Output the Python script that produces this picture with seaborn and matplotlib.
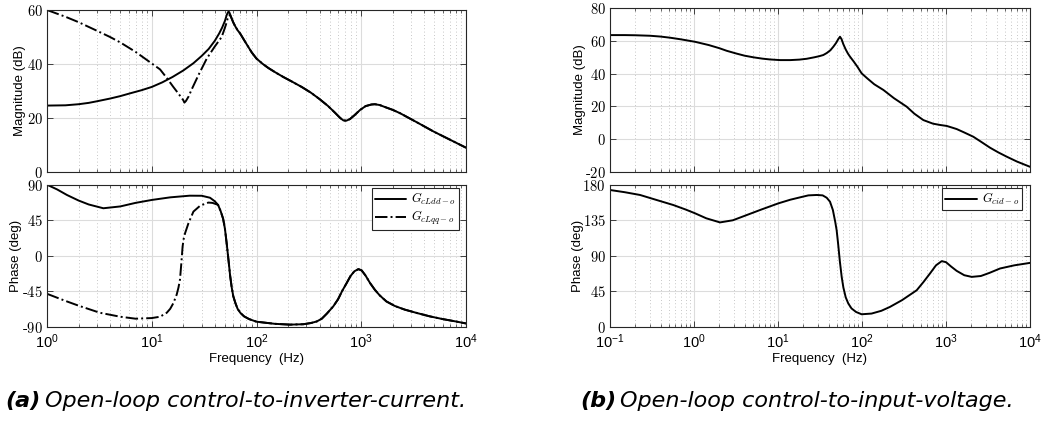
import numpy as np
import pandas as pd
import seaborn as sns
import matplotlib
matplotlib.use("Agg")
import matplotlib.pyplot as plt
from matplotlib.ticker import LogLocator, LogFormatterMathtext, FuncFormatter, FixedLocator, NullFormatter

# ---- (a) open-loop control-to-inverter-current ----
freq_dd_mag = [1, 1.5, 2, 2.5, 3, 4, 5, 6.3, 8, 10, 12.6, 15.8, 20, 25, 30, 35, 40, 44, 47, 50, 52, 53.5,
               54.3, 55.2, 56.5, 58, 60, 63, 66, 69.5, 80, 90, 100, 115, 130, 150, 180, 220, 270, 330, 400,
               480, 560, 630, 676, 720, 780, 860, 976, 1100, 1250, 1350, 1500, 1700, 2000, 2340, 3400, 4900,
               7000, 10000]
mag_dd = [24.6, 24.7, 25.1, 25.6, 26.2, 27.2, 28.1, 29.2, 30.3, 31.5, 33.2, 35.2, 37.6, 40.3, 43.0, 45.6,
          48.6, 51.3, 53.5, 56.0, 58.2, 59.2, 59.4, 59.0, 58.0, 56.8, 55.4, 53.8, 52.5, 51.4, 47.5, 44.3,
          42.0, 40.0, 38.5, 37.0, 35.2, 33.4, 31.5, 29.4, 27.0, 24.5, 22.0, 20.0, 19.1, 19.0, 19.6, 21.0,
          23.0, 24.4, 25.0, 25.1, 24.8, 24.0, 23.0, 21.8, 18.4, 15.0, 12.0, 9.0]

freq_qq_mag = [1, 1.5, 2, 3, 4, 5, 7, 10, 12, 14, 16, 18, 20, 20.5, 21.2, 22.5, 24, 28, 33.5, 40, 46.5, 49,
               51, 53, 55, 56.5, 58, 60, 63, 66, 69.5, 80, 90, 100, 115, 130, 150, 180, 220, 270, 330, 400,
               480, 560, 630, 676, 720, 780, 860, 976, 1100, 1250, 1350, 1500, 1700, 2000, 2340, 3400, 4900,
               7000, 10000]
mag_qq = [60.0, 57.5, 55.5, 52.3, 50.0, 48.0, 44.5, 40.2, 38.0, 34.7, 31.6, 29.0, 26.6, 25.7, 26.3, 28.0,
          30.5, 36.0, 42.0, 46.5, 50.0, 52.5, 54.5, 56.8, 58.1, 57.8, 56.8, 55.4, 53.8, 52.5, 51.4, 47.5,
          44.3, 42.0, 40.0, 38.5, 37.0, 35.2, 33.4, 31.5, 29.4, 27.0, 24.5, 22.0, 20.0, 19.1, 19.0, 19.6,
          21.0, 23.0, 24.4, 25.0, 25.1, 24.8, 24.0, 23.0, 21.8, 18.4, 15.0, 12.0, 9.0]

freq_dd_ph = [1, 1.25, 1.55, 2, 2.5, 3.45, 5, 7, 10, 15, 23, 30, 36, 40, 43, 45.5, 48, 50, 52, 54, 56, 58, 60,
              63, 66, 70, 76, 85, 100, 150, 209, 280, 330, 376, 420, 470, 540, 600, 660, 725, 790, 860, 940,
              1010, 1100, 1215, 1350, 1500, 1740, 2100, 2600, 3400, 4500, 6000, 8000, 10000]
ph_dd = [90, 84, 77, 70, 65, 60.2, 62.5, 67, 70.7, 74, 76.1, 76, 73.5, 69, 64.4, 56.5, 47, 34, 15, -5, -25,
         -40, -51, -60, -67, -72, -76.5, -80, -83.3, -86, -87, -86.5, -85, -83, -79.5, -73, -64, -55, -44,
         -34.5, -25.5, -19.5, -16.8, -18.5, -25, -34.5, -43, -50, -57.7, -63.5, -68, -72.3, -76.5, -80, -83,
         -85.5]

freq_qq_ph = [1, 1.5, 2, 3.2, 5, 7, 10, 12, 13.9, 15, 16.1, 17.3, 18, 18.6, 19.2, 19.7, 20.2, 20.8, 22.4, 25,
              29, 34.7, 38, 41.5, 43, 45.5, 48, 50, 52, 54, 56, 58, 60, 63, 66, 70, 76, 85, 100, 150, 209, 280,
              330, 376, 420, 470, 540, 600, 660, 725, 790, 860, 940, 1010, 1100, 1215, 1350, 1500, 1740, 2100,
              2600, 3400, 4500, 6000, 8000, 10000]
ph_qq = [-48, -57, -63, -72, -77, -79.5, -78.7, -77, -72, -67, -59.7, -49, -40, -30, -8, 11.8, 22, 28.6,
         41.2, 56, 63.5, 67.4, 67, 65.2, 64.4, 56.5, 47, 34, 15, -5, -25, -40, -51, -60, -67, -72, -76.5, -80,
         -83.3, -86, -87, -86.5, -85, -83, -79.5, -73, -64, -55, -44, -34.5, -25.5, -19.5, -16.8, -18.5, -25,
         -34.5, -43, -50, -57.7, -63.5, -68, -72.3, -76.5, -80, -83, -85.5]

# ---- (b) open-loop control-to-input-voltage ----
freq_cid_mag = [0.1, 0.15, 0.2, 0.3, 0.4, 0.52, 0.7, 1.03, 1.5, 2.0, 2.45, 3.2, 4, 5.1, 6.5, 8, 10.6, 14,
                18, 21.9, 27, 31, 34.6, 38, 42, 45.6, 49, 52, 54.7, 57, 60, 64, 68, 72, 80, 88, 99, 115, 140,
                180, 240, 340, 420, 537, 700, 850, 1020, 1180, 1340, 1650, 2114, 2600, 3340, 4200, 5280,
                7000, 10000]
mag_cid = [63.6, 63.6, 63.5, 63.2, 62.7, 62.0, 61.0, 59.5, 57.5, 55.6, 54.0, 52.3, 51.0, 50.0, 49.2, 48.7,
           48.3, 48.3, 48.6, 49.1, 50.0, 50.7, 51.4, 52.6, 54.3, 56.5, 58.7, 61.0, 62.6, 61.2, 58.0, 54.8,
           52.3, 50.4, 47.3, 44.3, 40.2, 37.2, 33.5, 30.0, 25.0, 19.8, 15.5, 11.6, 9.4, 8.6, 8.0, 7.0, 6.1,
           4.0, 1.4, -1.6, -5.3, -8.2, -10.8, -13.8, -17.0]

freq_cid_ph = [0.1, 0.15, 0.228, 0.35, 0.567, 0.8, 1.03, 1.4, 2.04, 2.9, 4.24, 6.3, 10.1, 14, 18.3, 23, 28.9,
               34, 38, 41.6, 45, 48, 49.9, 52, 54.5, 57.3, 60, 64, 68.7, 75, 85, 99, 130, 170, 215, 300, 448,
               540, 645, 760, 889, 1000, 1150, 1340, 1650, 2023, 2600, 3300, 4395, 6500, 10000]
ph_cid = [173.3, 170.5, 167, 161, 154.3, 148.5, 143.8, 137.5, 132.3, 135, 141.6, 148.5, 156.4, 161, 164,
          166.5, 167, 166.5, 163.5, 158.5, 148, 133, 122.5, 105, 83, 63.4, 50, 37.5, 29.7, 23.5, 19, 16.1,
          17, 20.5, 25.4, 34, 46.5, 57, 67.7, 78, 83.3, 82, 76.5, 71, 65.5, 63.4, 64.5, 68.5, 74, 78, 81.1]

label_dd = r"$G_{cLdd-o}$"
label_qq = r"$G_{cLqq-o}$"
label_cid = r"$G_{cid-o}$"

sns.set_theme(style="ticks")
plt.rcParams["font.family"] = ["Liberation Sans", "DejaVu Sans"]
plt.rcParams["mathtext.fontset"] = "cm"
plt.rcParams["axes.linewidth"] = 0.8
plt.rcParams["text.color"] = "black"
plt.rcParams["axes.labelcolor"] = "black"

fig = plt.figure(figsize=(10.41, 4.23), dpi=100)

W = 1041.0
H = 423.0


def box(x0, y0, x1, y1):
    return [x0 / W, 1 - y1 / H, (x1 - x0) / W, (y1 - y0) / H]


ax_a_mag = fig.add_axes(box(47, 10, 466, 172))
ax_a_ph = fig.add_axes(box(47, 184.7, 466, 327))
ax_b_mag = fig.add_axes(box(610, 8.3, 1030, 171.7))
ax_b_ph = fig.add_axes(box(610, 184.7, 1030, 327))


def line(ax, f, v, style="-", label=None):
    df = pd.DataFrame({"f": f, "v": v})
    sns.lineplot(data=df, x="f", y="v", ax=ax, color="black", lw=1.4, linestyle=style,
                 label=label, sort=False, legend=False)


line(ax_a_mag, freq_dd_mag, mag_dd, "-")
line(ax_a_mag, freq_qq_mag, mag_qq, "-.")
line(ax_a_ph, freq_dd_ph, ph_dd, "-", label_dd)
line(ax_a_ph, freq_qq_ph, ph_qq, "-.", label_qq)
line(ax_b_mag, freq_cid_mag, mag_cid, "-")
line(ax_b_ph, freq_cid_ph, ph_cid, "-", label_cid)


def num_label(v, pos):
    if v < 0:
        return r"$\text{-}%g$" % abs(v)
    return r"$%g$" % v


num_fmt = FuncFormatter(num_label)


def style_axes(ax, xlim, ylim, yticks, show_x):
    ax.set_xscale("log")
    ax.set_xlim(*xlim)
    ax.set_ylim(*ylim)
    ax.xaxis.set_major_locator(LogLocator(base=10, numticks=20))
    ax.xaxis.set_minor_locator(LogLocator(base=10, subs=np.arange(2, 10), numticks=100))
    ax.yaxis.set_major_locator(FixedLocator(yticks))
    ax.yaxis.set_major_formatter(num_fmt)
    if show_x:
        ax.xaxis.set_major_formatter(LogFormatterMathtext())
    else:
        ax.xaxis.set_major_formatter(NullFormatter())
    ax.xaxis.set_minor_formatter(NullFormatter())
    ax.grid(True, which="major", color="#dcdcdc", lw=0.8, ls="-")
    ax.grid(True, which="minor", axis="x", color="#b4b4b4", lw=0.6, ls=(0, (1, 3)))
    ax.set_axisbelow(True)
    ax.tick_params(which="both", direction="in", top=True, right=True, colors="#262626",
                   labelcolor="black", labelsize=10.5, pad=3)
    ax.tick_params(which="major", length=4, width=0.6)
    ax.tick_params(which="minor", length=2.2, width=0.5)
    ax.tick_params(axis="x", which="major", pad=4)
    for s in ax.spines.values():
        s.set_color("#262626")
    ax.set_xlabel("")
    ax.set_ylabel("")


style_axes(ax_a_mag, (1, 1e4), (0, 60), [0, 20, 40, 60], False)
style_axes(ax_a_ph, (1, 1e4), (-90, 90), [-90, -45, 0, 45, 90], True)
style_axes(ax_b_mag, (0.1, 1e4), (-20, 80), [-20, 0, 20, 40, 60, 80], False)
style_axes(ax_b_ph, (0.1, 1e4), (0, 180), [0, 45, 90, 135, 180], True)

# y-label centres (pixels from the figure's left edge)
ylabel_x = {ax_a_mag: (20, 47, 419), ax_a_ph: (16, 47, 419),
            ax_b_mag: (580, 610, 420), ax_b_ph: (578, 610, 420)}
for ax in (ax_a_mag, ax_b_mag):
    ax.set_ylabel("Magnitude (dB)", fontsize=9.5)
for ax in (ax_a_ph, ax_b_ph):
    ax.set_ylabel("Phase (deg)", fontsize=9.5)
    ax.set_xlabel("Frequency  (Hz)", fontsize=9.5, labelpad=1)
for ax, (cx, x0, w) in ylabel_x.items():
    ax.yaxis.label.set_va("center")
    ax.yaxis.set_label_coords((cx - x0) / w, 0.5)

legend_spec = [(ax_a_ph, 419, 7), (ax_b_ph, 420, 8)]
for ax, w, dx in legend_spec:
    leg = ax.legend(loc="upper right", bbox_to_anchor=(1 - dx / w, 1 - 3.3 / 142.3),
                    borderaxespad=0, fontsize=9, frameon=True, fancybox=False,
                    handlelength=2.5, borderpad=0.25, labelspacing=0.15, handletextpad=0.4)
    leg.get_frame().set_edgecolor("#262626")
    leg.get_frame().set_linewidth(0.8)
    leg.get_frame().set_alpha(1)

# captions
cap_font = ["DejaVu Sans"]
base_y = 1 - 407 / H
fig.text(5 / W, base_y, "(a)", fontsize=16, fontweight="bold", style="italic",
         va="baseline", ha="left", family=cap_font, color="black")
fig.text(45 / W, base_y, "Open-loop control-to-inverter-current.", fontsize=16,
         style="italic", va="baseline", ha="left", family=cap_font, color="black")
fig.text(580 / W, base_y, "(b)", fontsize=16, fontweight="bold", style="italic",
         va="baseline", ha="left", family=cap_font, color="black")
fig.text(620 / W, base_y, "Open-loop control-to-input-voltage.", fontsize=16,
         style="italic", va="baseline", ha="left", family=cap_font, color="black")

fig.savefig("out.png", dpi=100)
